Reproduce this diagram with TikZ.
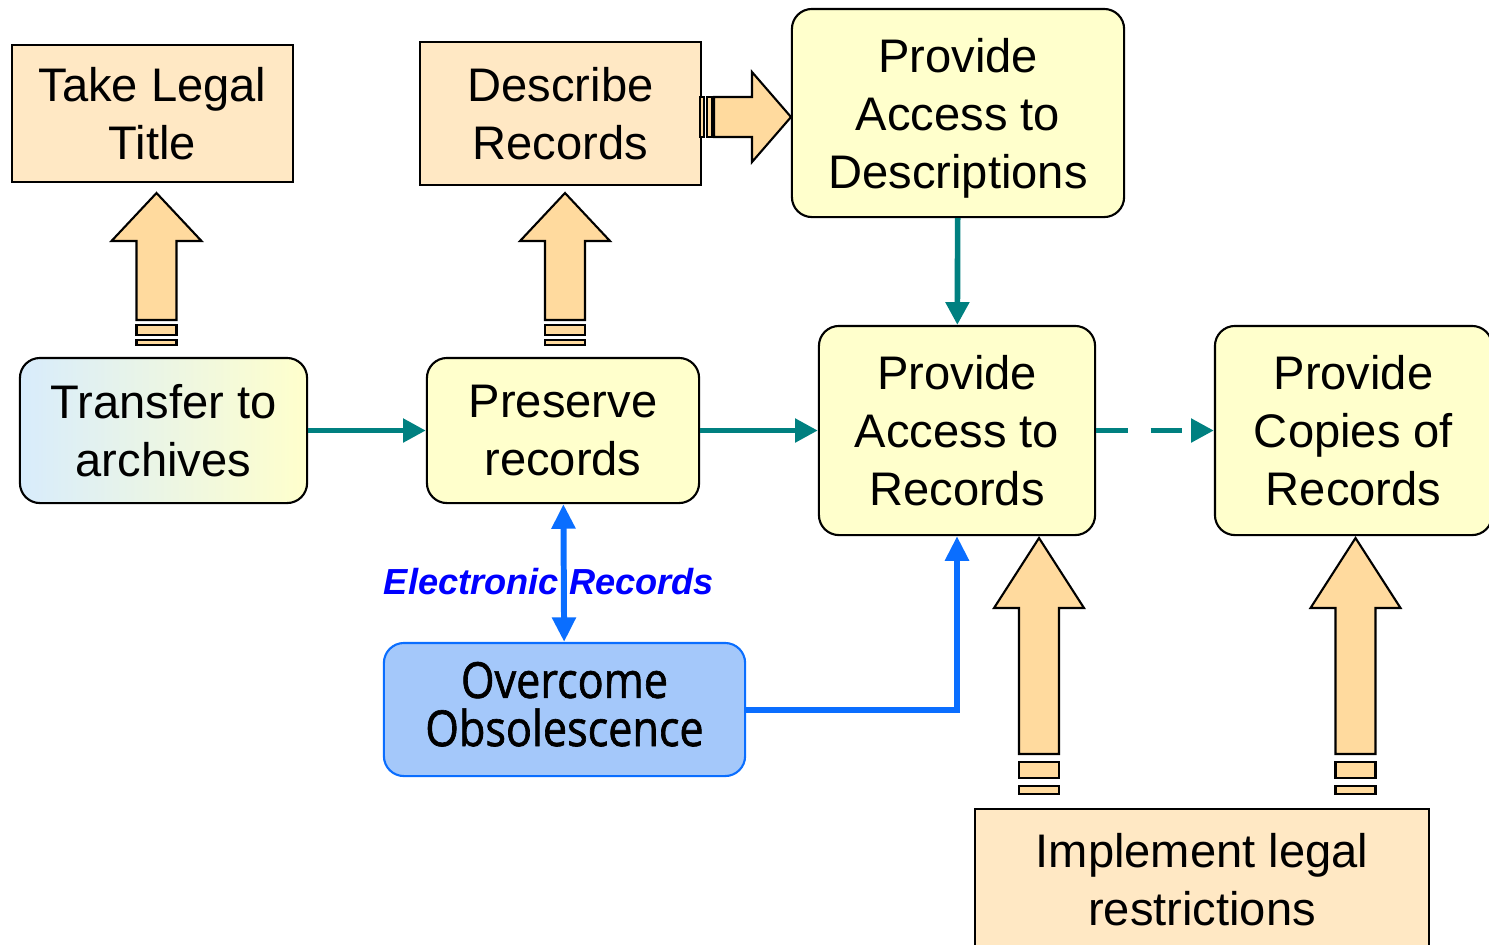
\documentclass[tikz,border=0pt]{standalone}
\usepackage{fontspec}
\setmainfont{Liberation Sans}
\newfontfamily\obsfont[FakeStretch=0.87, FakeBold=1.3]{Open Sans}
\usetikzlibrary{calc,arrows.meta}
\definecolor{legalfill}{HTML}{FFE8C4}
\definecolor{arrowfill}{HTML}{FFDA9E}
\definecolor{accfill}{HTML}{FFFFCC}
\definecolor{transblue}{HTML}{D8ECFC}
\definecolor{flowteal}{HTML}{008080}
\definecolor{eblue}{HTML}{0A6EFF}
\definecolor{obsfill}{HTML}{A4C8FA}
\newcommand\boxfont{\fontsize{13.4}{16.5}\selectfont}
% tip at (#1,#2), head length #3, shaft end #4, stripe unit #5
\def\blockup(#1,#2)[#3,#4,#5]{%
	\draw[blockarrow] (#1,#2) -- ++(45,#3) -- ++(-25,0) -- ++(0,#4-#3) -- ++(-40,0) -- ++(0,#3-#4) -- ++(-25,0) -- cycle;
	\draw[blockarrow] ($(#1,#2)+(-20,#4+#5)$) rectangle ++(40,2*#5);
	\draw[blockarrow] ($(#1,#2)+(-20,#4+4*#5)$) rectangle ++(40,#5);
}
\tikzset{
	legalbox/.style={draw, line width=0.6pt, fill=legalfill, align=center, inner sep=0pt, font=\boxfont},
	accbox/.style={legalbox, fill=accfill, rounded corners=0.2cm},
	obsbox/.style={accbox, draw=eblue, fill=obsfill, font=\obsfont\fontsize{14.1}{13.7}\selectfont},
	blockarrow/.style={draw, line width=0.6pt, fill=arrowfill},
	tealflow/.style={draw=flowteal, line width=1.6pt, -{Triangle[length=6.5pt,width=6.5pt]}},
	eflow/.style={draw=eblue, line width=1.7pt},
	elabel/.style={text=blue, font=\bfseries\itshape\fontsize{10.3}{12}\selectfont}
}
\begin{document}
\begin{tikzpicture}[x=0.01cm, y=-0.01cm]
	%%%%% START %%%%%
	\useasboundingbox (0,0) rectangle (1489,944);
	
	\node[legalbox, minimum width=2.81cm, minimum height=1.37cm] (legal) at (152.5,113.5) {Take Legal\\Title};
	\node[legalbox, minimum width=2.81cm, minimum height=1.43cm] (describe) at (560.5,113.5) {Describe\\Records};
	\node[accbox, text depth=0pt, minimum width=3.32cm, minimum height=2.08cm] (descacc) at (958,113) {Provide\\Access to\\Descriptions};
	
	\node[accbox, left color=transblue, right color=accfill, minimum width=2.87cm, minimum height=1.45cm] (transfer) at (163.5,430.5) {Transfer to\\archives};
	\node[accbox, minimum width=2.72cm, minimum height=1.45cm] (preserve) at (563,430.5) {Preserve\\records};
	\node[accbox, minimum width=2.76cm, minimum height=2.09cm] (recacc) at (957,430.5) {Provide\\Access to\\Records};
	\node[accbox, minimum width=2.77cm, minimum height=2.09cm] (copies) at (1353.5,430.5) {Provide\\Copies of\\Records};
	
	\node[obsbox, text depth=0.11cm, minimum width=3.61cm, minimum height=1.33cm] (obsolete) at (564.5,709.5) {Overcome\\Obsolescence};
	\node[legalbox, minimum width=4.54cm, minimum height=1.42cm] (restrict) at (1202,880) {Implement legal\\restrictions};
	
	\node[elabel] (elec) at (549,582) {Electronic Records};
	
	% flow
	\draw[tealflow] (transfer) -- (preserve);
	\draw[tealflow] (preserve) -- (recacc);
	\draw[tealflow] (descacc) -- (recacc);
	\draw[tealflow, dash pattern=on 9pt off 6.5pt] (recacc) -- (copies);
	
	\draw[eflow, {Triangle[length=7pt,width=6.5pt]}-{Triangle[length=7pt,width=6.5pt]}] (preserve) -- (obsolete);
	\draw[eflow, -{Triangle[length=7pt,width=6.5pt]}] (obsolete) -| (recacc);
	
	% block arrows
	\blockup(156.5,193)[48,127,5]
	\blockup(565,193)[48,127,5]
	\blockup(1039,538)[70,216,8]
	\blockup(1355.5,538)[70,216,8]
	
	\draw[blockarrow] (791,117) -- (752,72) -- (752,97) -- (714,97) -- (714,137) -- (752,137) -- (752,162) -- cycle;
	\draw[blockarrow] (707,97) rectangle (712,137);
	\draw[blockarrow] (700,97) rectangle (704,137);
	
	%%%%% END %%%%%
\end{tikzpicture}
\end{document}
